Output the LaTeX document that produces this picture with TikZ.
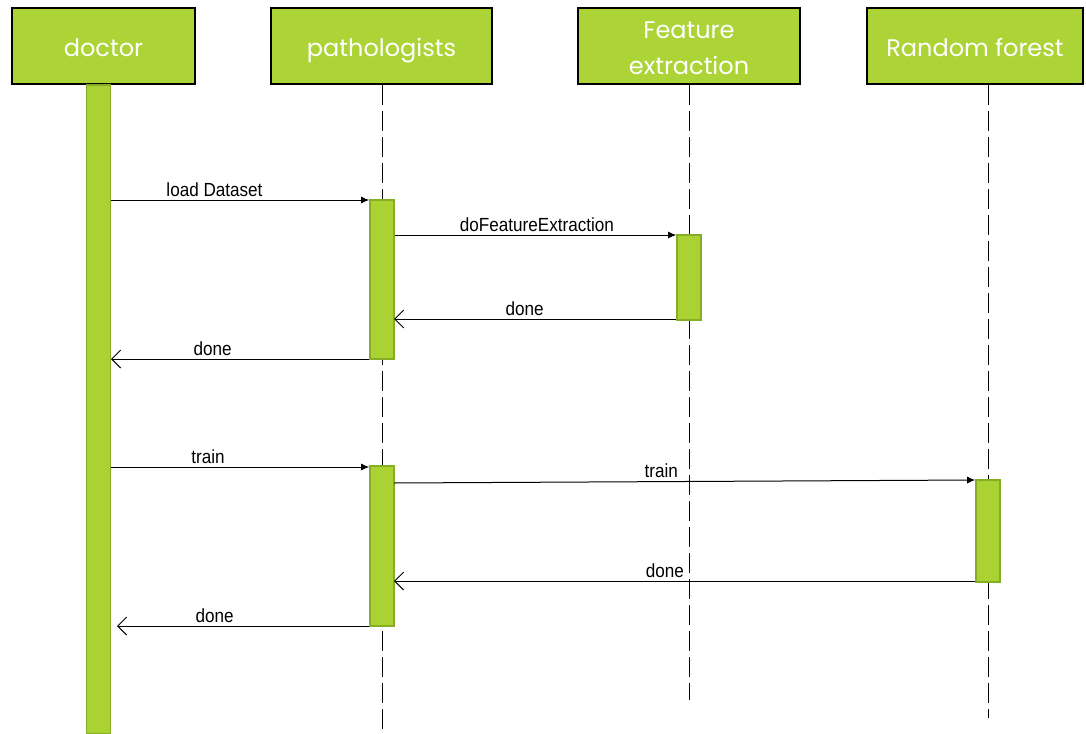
\documentclass[tikz,border=0pt]{standalone}
\usepackage{fontspec}
\setmainfont{Liberation Sans}
\newfontfamily\headfont{Poppins}
\newfontfamily\msgfont{Liberation Sans}[FakeStretch=0.9]
\usetikzlibrary{arrows.meta}
\definecolor{headgreen}{HTML}{ADD436}
\definecolor{barfill}{HTML}{AAD233}
\definecolor{barline}{HTML}{86AD26}
% header captions sit slightly below the box centre
\newcommand{\hdtxt}[1]{\raisebox{-3pt}[\height][\depth]{\begin{tabular}{@{}c@{}}#1\end{tabular}}}
\tikzset{
  headbox/.style={draw=black, line width=2pt, fill=headgreen, text=white,
    minimum height=76pt, inner sep=0pt, align=center,
    font=\headfont\fontsize{24}{36}\selectfont},
  actbar/.style={draw=barline, line width=1.6pt, fill=barfill, minimum width=24pt,
    inner sep=0pt, anchor=north},
  lifeline/.style={black, line width=1pt, dash pattern=on 20pt off 6pt},
  callmsg/.style={black, line width=1pt, -{Latex[length=8pt,width=7pt]}},
  retmsg/.style={black, line width=1pt, -{Straight Barb[length=9pt,width=18pt,line width=1pt]}},
  msglabel/.style={above=3pt, inner sep=0pt, font=\msgfont\fontsize{19}{22}\selectfont}
}
\begin{document}
\begin{tikzpicture}[x=1pt, y=-1pt]
\useasboundingbox (0,0) rectangle (1086,733);

% participant headers
\node[headbox, minimum width=183pt] (doc) at (103.5,46) {\hdtxt{doctor}};
\node[headbox, minimum width=221pt] (path) at (381.5,46) {\hdtxt{pathologists}};
\node[headbox, minimum width=222pt] (feat) at (689,46) {\hdtxt{Feature\\extraction}};
\node[headbox, minimum width=216pt] (rf) at (975,46) {\hdtxt{Random forest}};

% lifeline ends
\coordinate (pathend) at (382,733);
\coordinate (featend) at (689,700);
\coordinate (rfend) at (988,718);

% lifelines
\draw[lifeline] (path.south -| pathend) -- (pathend);
\draw[lifeline] (feat.south -| featend) -- (featend);
\draw[lifeline] (rf.south -| rfend) -- (rfend);

% activation bars
\node[actbar, minimum height=649pt] (docbar) at (98.5,84) {};
\node[actbar, minimum height=159pt] (pbar1) at (382,199) {};
\node[actbar, minimum height=85pt] (fbar) at (689,234) {};
\node[actbar, minimum height=160pt] (pbar2) at (382,465) {};
\node[actbar, minimum height=102pt] (rfbar) at (988,479) {};

% return targets
\coordinate (ret1) at (394,319);
\coordinate (ret2) at (111,359);
\coordinate (ret3) at (394,581);
\coordinate (ret4) at (117,626);
\coordinate (tr2a) at (394,483);

% messages
\draw[callmsg] (docbar.east |- 0,200) -- node[msglabel, pos=0.40] {load Dataset} (pbar1.west |- 0,200);
\draw[callmsg] (pbar1.east |- 0,235) -- node[msglabel, pos=0.505] {doFeatureExtraction} (fbar.west |- 0,235);
\draw[retmsg] (fbar.west |- ret1) -- node[msglabel, pos=0.537] {done} (ret1);
\draw[retmsg] (pbar1.west |- ret2) -- node[msglabel, pos=0.606] {done} (ret2);
\draw[callmsg] (docbar.east |- 0,467) -- node[msglabel, pos=0.375] {train} (pbar2.west |- 0,467);
\draw[callmsg] (tr2a) -- node[msglabel, pos=0.46] {train} (rfbar.west |- 0,480);
\draw[retmsg] (rfbar.west |- ret3) -- node[msglabel, pos=0.534] {done} (ret3);
\draw[retmsg] (pbar2.west |- ret4) -- node[msglabel, pos=0.613] {done} (ret4);
\end{tikzpicture}
\end{document}
